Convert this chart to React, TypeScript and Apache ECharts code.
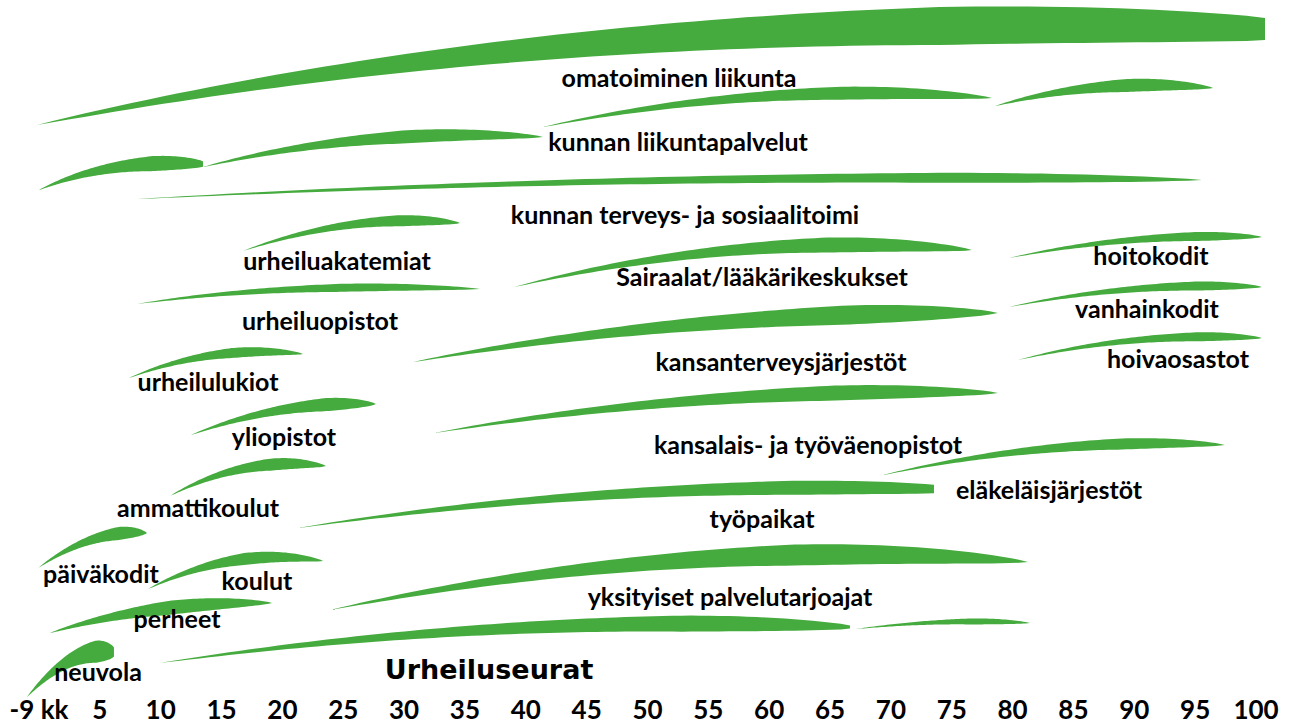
import React, { useEffect, useRef } from "react";
import * as echarts from "echarts";

// Age axis tick labels
const tickAges = [0, 5, 10, 15, 20, 25, 30, 35, 40, 45, 50, 55, 60, 65, 70, 75, 80, 85, 90, 95, 100];
const tickLabel = (v: number) => (v === 0 ? "-9 kk" : String(v));

// Leaves (age span of each service)
const leafFromAge = [-0.16, 0, 13.48, 41.41, 78.55, 8.05, 16.76, 8.05, 39.03, 79.7, 79.7, 80.44, 7.4, 30.73, 12.49, 32.46, 69.35, 10.76, 21.28, -0.08, 8.96, 23.91, 0.9, 9.94, 67.13, -0.99];
const leafToAge = [100.74, 13.48, 41.41, 78.31, 96.47, 95.56, 34.59, 36.24, 76.66, 100.49, 100.49, 100.49, 21.69, 78.8, 27.69, 78.8, 97.45, 23.58, 73.54, 8.87, 23.34, 81.27, 19.15, 66.64, 81.43, 6.16];
const leafBendAge = [46.1, 5.83, 26.79, 59.82, 87.35, 52.59, 25.88, 20.3, 58.18, 90.06, 90.06, 90.22, 14.3, 54.31, 19.97, 55.88, 83.73, 16.93, 47.41, 4.52, 15.94, 54.23, 9.2, 39.19, 74.86, 2.71];

// Leaf layout (vertical levels and shape)
const leafFromLevel = [125, 190, 167, 127, 106, 199, 251, 304, 287, 258, 307, 360, 378, 362, 435, 433, 475, 496, 528, 568, 589, 610, 633, 663, 629, 697];
const leafToLevel = [29, 164, 137, 98, 88, 180, 223, 289, 250, 237, 287, 338, 354, 313, 404, 393, 445, 466, 489, 533, 561, 562, 603, 627, 623, 652];
const leafBendLevel = [5, 158, 127, 80, 77, 171, 212, 282, 230, 232, 281, 331, 344, 310, 400, 385, 436, 455, 480, 528, 546, 534, 601, 612, 618, 645];
const leafThickness = [38, 15, 13, 13, 13, 10, 11, 8, 15, 9, 9, 9, 10, 19, 13, 15, 11, 12, 14, 13, 12, 21, 14, 16, 6, 22];
const leafPeak = [0.75, 0.72, 0.6, 0.66, 0.6, 0.76, 0.71, 0.62, 0.68, 0.74, 0.74, 0.74, 0.6, 0.73, 0.72, 0.7, 0.68, 0.65, 0.78, 0.72, 0.55, 0.65, 0.55, 0.75, 0.65, 0.78];
const leafBlunt = [0.58, 0.35, 0, 0, 0, 0, 0, 0, 0, 0, 0, 0, 0, 0, 0, 0, 0, 0, 0.6, 0, 0, 0, 0, 0.2, 0, 0.4];

// Labels
const labelNames = [
  "omatoiminen liikunta",
  "kunnan liikuntapalvelut",
  "kunnan terveys- ja sosiaalitoimi",
  "urheiluakatemiat",
  "Sairaalat/lääkärikeskukset",
  "hoitokodit",
  "urheiluopistot",
  "vanhainkodit",
  "kansanterveysjärjestöt",
  "hoivaosastot",
  "urheilulukiot",
  "yliopistot",
  "kansalais- ja työväenopistot",
  "eläkeläisjärjestöt",
  "ammattikoulut",
  "työpaikat",
  "päiväkodit",
  "koulut",
  "yksityiset palvelutarjoajat",
  "perheet",
  "neuvola",
  "Urheiluseurat",
];
const labelAge = [52.59, 52.51, 53.08, 24.49, 59.41, 91.37, 23.09, 91.04, 60.97, 93.59, 13.89, 20.13, 63.19, 82.99, 13.07, 59.41, 5.09, 17.91, 56.78, 11.34, 4.85, 36.98];
const labelLevel = [77, 141, 214, 260, 276, 255, 320, 308, 361, 358, 381, 436, 444, 489, 507, 518, 573, 580, 596, 618, 671, 669];

const GREEN = "#46ab3e";

export default function App() {
  const ref = useRef<HTMLDivElement>(null);

  useEffect(() => {
    if (!ref.current) return;
    const chart = echarts.init(ref.current, undefined, { renderer: "svg" });

    const leafData = leafFromAge.map((_, i) => [
      leafFromAge[i],
      leafFromLevel[i],
      leafToAge[i],
      leafToLevel[i],
      leafBendAge[i],
      leafBendLevel[i],
      leafThickness[i],
      leafPeak[i],
      leafBlunt[i],
    ]);

    const labelData = labelNames.map((_, i) => [labelAge[i], labelLevel[i], i]);

    chart.setOption({
      animation: false,
      backgroundColor: "#ffffff",
      grid: { left: 39, right: 35, top: 0, bottom: 34 },
      xAxis: {
        type: "value",
        min: 0,
        max: 100,
        interval: 5,
        axisLine: { show: false },
        axisTick: { show: false },
        splitLine: { show: false },
        axisLabel: {
          formatter: (v: number) => (tickAges.includes(v) ? tickLabel(v) : ""),
          color: "#000",
          fontSize: 26,
          lineHeight: 28,
          fontWeight: "bold",
          fontFamily: "Lato",
          margin: 3,
          showMinLabel: true,
          showMaxLabel: true,
        },
      },
      yAxis: { type: "value", min: 0, max: 692, inverse: true, show: false },
      series: [
        {
          type: "custom",
          clip: false,
          silent: true,
          data: leafData,
          encode: { x: 0, y: 1 },
          renderItem: (params: any, api: any) => {
            const x0 = api.value(0), y0 = api.value(1), x1 = api.value(2), y1 = api.value(3);
            const cx = api.value(4), cy = api.value(5), T = api.value(6), p = api.value(7), bl = api.value(8);
            const tpx = Math.abs(api.size([0, T])[1]);
            const top: number[][] = [];
            const bot: number[][] = [];
            const N = 72;
            for (let k = 0; k <= N; k++) {
              const s = k / N;
              const a = (1 - s) * (1 - s), b = 2 * s * (1 - s), c = s * s;
              const mx = a * x0 + b * cx + c * x1;
              const my = a * y0 + b * cy + c * y1;
              const pt = api.coord([mx, my]);
              let f: number;
              if (s <= p) f = Math.pow(s / p, 0.85);
              else {
                const u = (s - p) / (1 - p);
                f = bl + (1 - bl) * Math.pow(Math.max(0, 1 - u * u), 0.75);
              }
              const h = (tpx * f) / 2;
              top.push([pt[0], pt[1] - h]);
              bot.push([pt[0], pt[1] + h]);
            }
            return {
              type: "polygon",
              shape: { points: top.concat(bot.reverse()) },
              style: { fill: GREEN },
            };
          },
        },
        {
          type: "custom",
          clip: false,
          silent: true,
          z: 10,
          data: labelData,
          encode: { x: 0, y: 1 },
          renderItem: (params: any, api: any) => {
            const idx = api.value(2);
            const pt = api.coord([api.value(0), api.value(1)]);
            const name = labelNames[idx];
            const big = name === "Urheiluseurat";
            return {
              type: "text",
              x: pt[0],
              y: pt[1],
              style: {
                text: name,
                fill: "#000",
                opacity: 1,
                fontSize: big ? 27 : 25,
                fontWeight: "bold",
                fontFamily: big ? "DejaVu Sans" : "Lato",
                textAlign: "center",
                textVerticalAlign: "middle",
                align: "center",
                verticalAlign: "middle",
              },
            };
          },
        },
      ],
    });

    return () => chart.dispose();
  }, []);

  return (
    <div
      ref={ref}
      style={{ position: "absolute", left: 0, top: 0, width: 1291, height: 726, background: "#fff" }}
    />
  );
}
